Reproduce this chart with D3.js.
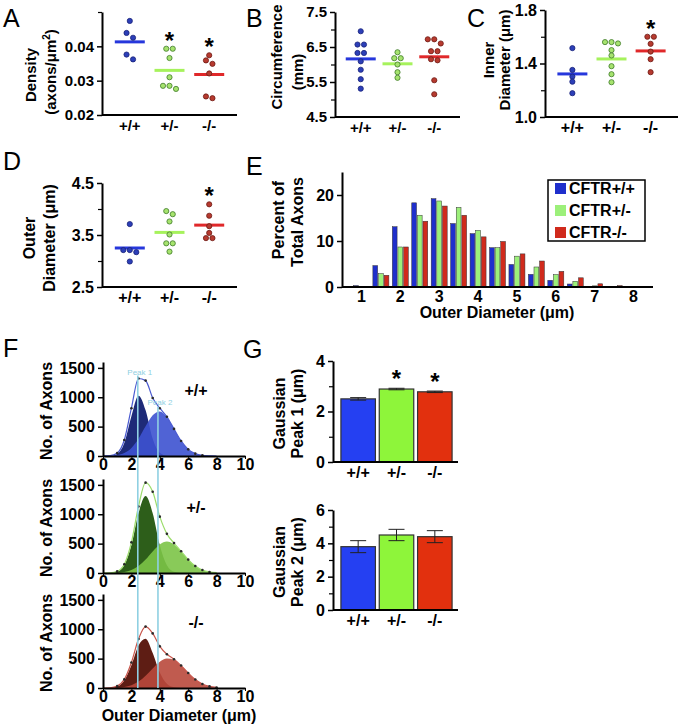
<!DOCTYPE html>
<html><head><meta charset="utf-8">
<script src="https://cdn.jsdelivr.net/npm/d3@7"></script>
<style>body{margin:0;background:#fff}svg{display:block}text{font-family:"Liberation Sans",Arial,Helvetica,sans-serif}</style>
</head><body><svg id="c" width="680" height="725"></svg>
<script>
// ---------------- DATA ----------------
const genotypes = ["+/+", "+/-", "-/-"];
// A: axon density (axons/um^2)
const densityWT  = [0.0474, 0.0439, 0.0425, 0.0376, 0.0362];
const densityHet = [0.0393, 0.0393, 0.0366, 0.0310, 0.0285, 0.0276, 0.0285];
const densityKO  = [0.0374, 0.0359, 0.0349, 0.0321, 0.0249, 0.0254];
const densityMean = [0.0413, 0.0330, 0.0318];
// B: circumference (mm)
const circWT  = [6.95, 6.57, 6.57, 6.33, 6.33, 6.09, 5.85, 5.58, 5.31];
const circHet = [6.35, 6.18, 6.18, 6.00, 5.78, 5.62];
const circKO  = [6.72, 6.72, 6.60, 6.38, 6.38, 6.12, 6.15, 5.55, 5.15];
const circMean = [6.16, 6.02, 6.22];
// C: inner diameter (um)
const innerWT  = [1.515, 1.352, 1.302, 1.264, 1.178];
const innerHet = [1.56, 1.55, 1.56, 1.50, 1.46, 1.38, 1.32, 1.26];
const innerKO  = [1.60, 1.60, 1.547, 1.489, 1.432, 1.335];
const innerMean = [1.322, 1.434, 1.494];
// D: outer diameter (um)
const outerWT  = [3.71, 3.21, 3.17, 3.21, 2.99];
const outerHet = [3.90, 3.96, 3.76, 3.51, 3.34, 3.34, 3.18];
const outerKO  = [4.09, 3.87, 3.67, 3.54, 3.44, 3.44];
const outerMean = [3.25, 3.55, 3.69];
// E: histogram of outer diameter (% of total axons)
const binCenters = [1, 1.5, 2, 2.5, 3, 3.5, 4, 4.5, 5, 5.5, 6, 6.5, 7, 7.5];
const pctWT  = [0.3, 4.65, 13.1, 18.3, 19.2, 13.8, 11.6, 8.55, 4.9, 2.75, 1.45, 0.65, 0.1, 0];
const pctHet = [0, 2.9, 8.7, 15.6, 18.7, 17.3, 12.3, 8.55, 6.7, 4.35, 2.7, 1.25, 0.25, 0];
const pctKO  = [0, 2.55, 8.7, 14.3, 17.6, 15.6, 10.9, 9.9, 7.2, 5.65, 3.4, 2.0, 0.7, 0.3];
const legendLabels = ["CFTR+/+", "CFTR+/-", "CFTR-/-"];
// F: number of axons vs outer diameter, two gaussian components + total
const diamX = [0, 0.5, 1, 1.5, 2, 2.5, 3, 3.5, 4, 4.5, 5, 5.5, 6, 6.5, 7, 7.5, 8];
const peak1WT  = [0, 3, 36, 223, 677, 1026, 778, 295, 56, 5, 0, 0, 0, 0, 0, 0, 0];
const peak2WT  = [1, 3, 15, 50, 136, 293, 505, 693, 758, 663, 461, 256, 113, 40, 11, 3, 0];
const totalWT  = [1, 6, 51, 273, 813, 1319, 1283, 988, 814, 668, 461, 256, 113, 40, 11, 3, 0];
const peak1Het = [0, 2, 22, 131, 472, 1015, 1310, 1015, 472, 131, 22, 2, 0, 0, 0, 0, 0];
const peak2Het = [0, 1, 5, 18, 50, 118, 228, 367, 487, 535, 487, 367, 228, 118, 50, 18, 5];
const totalHet = [0, 3, 27, 149, 522, 1133, 1538, 1382, 959, 666, 509, 369, 228, 118, 50, 18, 5];
const peak1KO  = [0, 3, 26, 128, 387, 724, 837, 597, 263, 72, 12, 1, 0, 0, 0, 0, 0];
const peak2KO  = [0, 1, 6, 18, 48, 109, 208, 332, 446, 503, 478, 381, 256, 144, 68, 27, 9];
const totalKO  = [0, 4, 32, 146, 435, 833, 1045, 929, 709, 575, 490, 382, 256, 144, 68, 27, 9];
const peakRef = [2.45, 3.87];
const peakLabels = ["Peak 1", "Peak 2"];
// G: gaussian peak positions (um), mean and error
const gPeak1 = [2.50, 2.89, 2.78];
const gPeak1Err = [0.05, 0.03, 0.03];
const gPeak2 = [3.80, 4.50, 4.40];
const gPeak2Err = [0.36, 0.34, 0.36];

// ---------------- STYLE ----------------
const dotFill = ["#2c3fb8", "#a6e36e", "#b63a2f"];
const dotStroke = ["#1a2378", "#3f7a2a", "#6e1a14"];
const meanCol = ["#2637dc", "#a6f25c", "#e0282a"];
const histCol = ["#1f2fcc", "#9cf07a", "#d02a1c"];
const barCol = ["#2540f2", "#8ef53a", "#e2300e"];
const svg = d3.select("#c");

function txt(g, x, y, s, fs, opts = {}) {
  return g.append("text").attr("x", x).attr("y", y).attr("font-size", fs)
    .attr("font-weight", opts.weight || "bold").attr("text-anchor", opts.anchor || "middle")
    .attr("fill", opts.fill || "#000").text(s);
}
function vtext(g, cx, cy, s, fs) {
  return g.append("text").attr("transform", `translate(${cx + 0.3 * fs},${cy}) rotate(-90)`)
    .attr("font-size", fs).attr("font-weight", "bold").attr("text-anchor", "middle").attr("fill", "#000").text(s);
}
function yAxis(g, scale, major, minor, fmt, fs) {
  const a = g.append("g").call(d3.axisLeft(scale).tickValues(major).tickFormat(fmt).tickSize(5).tickSizeOuter(0));
  a.select(".domain").attr("stroke-width", 2);
  a.selectAll(".tick line").attr("stroke-width", 1.5);
  a.selectAll(".tick text").attr("font-size", fs).attr("font-weight", "bold")
    .attr("font-family", '"Liberation Sans", Arial, sans-serif').attr("fill", "#000");
  if (minor && minor.length) {
    const m = g.append("g").call(d3.axisLeft(scale).tickValues(minor).tickFormat("").tickSize(4).tickSizeOuter(0));
    m.select(".domain").remove();
    m.selectAll(".tick line").attr("stroke-width", 1.2);
  }
}
function swarm(ys, step) {
  const idx = ys.map((y, i) => i).sort((a, b) => ys[a] - ys[b]);
  const off = new Array(ys.length).fill(0);
  let cl = [idx[0]];
  const flush = () => { const n = cl.length; cl.forEach((k, j) => off[k] = (j - (n - 1) / 2) * step); };
  for (let i = 1; i < idx.length; i++) {
    if (ys[idx[i]] - ys[cl[cl.length - 1]] < 5) cl.push(idx[i]); else { flush(); cl = [idx[i]]; }
  }
  flush();
  return off;
}
function dotPlot(p) {
  const g = svg.append("g");
  const y = d3.scaleLinear().domain(p.domain).range([p.yBot, p.yTop]);
  const x = d3.scalePoint().domain(genotypes).range([p.x0, p.x1]).padding(0.7);
  yAxis(g.append("g").attr("transform", `translate(${p.x0},0)`), y, p.major, p.minor, d3.format(p.fmt), p.fs);
  g.append("line").attr("x1", p.x0).attr("x2", p.x1).attr("y1", p.yBot).attr("y2", p.yBot)
    .attr("stroke", "#000").attr("stroke-width", 2);
  genotypes.forEach(k => txt(g, x(k), p.yBot + 16, k, p.fs));
  p.means.forEach((m, i) => g.append("line").attr("x1", x(genotypes[i]) - 15).attr("x2", x(genotypes[i]) + 15)
    .attr("y1", y(m)).attr("y2", y(m)).attr("stroke", meanCol[i]).attr("stroke-width", 3));
  p.groups.forEach((vals, i) => {
    const ys = vals.map(y), off = swarm(ys, 6.5);
    g.selectAll(null).data(vals).join("circle")
      .attr("cx", (d, j) => x(genotypes[i]) + off[j]).attr("cy", (d, j) => ys[j]).attr("r", 2.6)
      .attr("fill", dotFill[i]).attr("stroke", dotStroke[i]).attr("stroke-width", 0.8);
  });
  p.stars.forEach(i => txt(g, x(genotypes[i]), y(d3.max(p.groups[i])), "*", 24));
  txt(g, p.letter[1], p.letter[2], p.letter[0], 25, { weight: "normal", anchor: "start" });
  return g;
}

// ---------------- PANEL A ----------------
const gA = dotPlot({ x0: 102, x1: 237, yTop: 12, yBot: 115, domain: [0.02, 0.05], major: [0.02, 0.03, 0.04], minor: [0.05],
  fmt: ".2f", fs: 15, groups: [densityWT, densityHet, densityKO], means: densityMean, stars: [1, 2], letter: ["A", 3, 27] });
vtext(gA, 31, 75, "Density", 15);
{
  const t = gA.append("text").attr("transform", `translate(${51 + 4.5},72) rotate(-90)`).attr("font-size", 15)
    .attr("font-weight", "bold").attr("text-anchor", "middle");
  t.append("tspan").text("(axons/μm");
  t.append("tspan").attr("font-size", 10).attr("dy", -6).text("2");
  t.append("tspan").attr("dy", 6).text(")");
}
// ---------------- PANEL B ----------------
const gB = dotPlot({ x0: 335, x1: 460, yTop: 12, yBot: 117, domain: [4.5, 7.5], major: [4.5, 5.5, 6.5, 7.5], minor: [5, 6, 7],
  fmt: ".1f", fs: 15, groups: [circWT, circHet, circKO], means: circMean, stars: [], letter: ["B", 246, 27] });
vtext(gB, 277, 57, "Circumference", 15);
vtext(gB, 298, 72, "(mm)", 15);
// ---------------- PANEL C ----------------
const gC = dotPlot({ x0: 545, x1: 678, yTop: 10, yBot: 117, domain: [1.0, 1.8], major: [1.0, 1.4, 1.8], minor: [1.2, 1.6],
  fmt: ".1f", fs: 16, groups: [innerWT, innerHet, innerKO], means: innerMean, stars: [2], letter: ["C", 467, 27] });
vtext(gC, 489, 60, "Inner", 15);
vtext(gC, 505, 60, "Diameter (μm)", 15);
// ---------------- PANEL D ----------------
const gD = dotPlot({ x0: 102, x1: 237, yTop: 183, yBot: 287, domain: [2.5, 4.5], major: [2.5, 3.5, 4.5], minor: [3.0, 4.0],
  fmt: ".1f", fs: 16, groups: [outerWT, outerHet, outerKO], means: outerMean, stars: [2], letter: ["D", 3, 170] });
vtext(gD, 30, 238, "Outer", 16);
vtext(gD, 50, 238, "Diameter (μm)", 16);

// ---------------- PANEL E ----------------
{
  const g = svg.append("g");
  const x = d3.scaleLinear().domain([0.5, 8.5]).range([342, 653]);
  const y = d3.scaleLinear().domain([0, 25]).range([287, 172]);
  const sub = d3.scaleBand().domain([0, 1, 2]).range([-8, 8]).paddingInner(0.15);
  const series = [pctWT, pctHet, pctKO];
  series.forEach((arr, s) => {
    g.selectAll(null).data(binCenters).join("rect")
      .attr("x", (d) => x(d) + sub(s)).attr("width", sub.bandwidth())
      .attr("y", (d, i) => y(arr[i])).attr("height", (d, i) => y(0) - y(arr[i]))
      .attr("fill", histCol[s]).attr("stroke", "#333").attr("stroke-width", 0.5);
  });
  yAxis(g.append("g").attr("transform", "translate(342,0)"), y, [0, 10, 20], [], d3.format("d"), 16);
  g.append("line").attr("x1", 342).attr("x2", 653).attr("y1", 287).attr("y2", 287).attr("stroke", "#000").attr("stroke-width", 2);
  [1, 2, 3, 4, 5, 6, 7, 8].forEach(v => txt(g, x(v), 302, String(v), 16));
  txt(g, 497, 318, "Outer Diameter (μm)", 16);
  vtext(g, 279, 220, "Percent of", 16);
  vtext(g, 298, 222, "Total Axons", 16);
  // legend
  g.append("rect").attr("x", 548).attr("y", 180).attr("width", 97).attr("height", 61)
    .attr("fill", "#fff").attr("stroke", "#000").attr("stroke-width", 1.5);
  legendLabels.forEach((l, i) => {
    g.append("rect").attr("x", 555).attr("y", 183 + i * 22).attr("width", 11).attr("height", 11).attr("fill", histCol[i]);
    txt(g, 569, 194 + i * 22, l, 16, { anchor: "start" });
  });
  txt(g, 246, 175, "E", 25, { weight: "normal", anchor: "start" });
}

// ---------------- PANEL F ----------------
{
  const g = svg.append("g");
  const x = d3.scaleLinear().domain([0, 10]).range([103, 245]);
  const subs = [
    { y0: 456, p1: peak1WT, p2: peak2WT, tot: totalWT, c1: "#1e2a78", c2: "#3d52d0", cl: "#4a5ad0", lab: "+/+" },
    { y0: 573, p1: peak1Het, p2: peak2Het, tot: totalHet, c1: "#2d5e1a", c2: "#7cc447", cl: "#9bdc6a", lab: "+/-" },
    { y0: 688, p1: peak1KO, p2: peak2KO, tot: totalKO, c1: "#5e1d14", c2: "#b9493c", cl: "#c8564c", lab: "-/-" }
  ];
  let topScale;
  subs.forEach((s, k) => {
    const y = d3.scaleLinear().domain([0, 1600]).range([s.y0, s.y0 - 94]);
    if (k === 0) topScale = y;
    const area = arr => d3.area().x((d, i) => x(diamX[i])).y0(s.y0).y1(d => y(d)).curve(d3.curveMonotoneX)(arr);
    const line = arr => d3.line().x((d, i) => x(diamX[i])).y(d => y(d)).curve(d3.curveMonotoneX)(arr);
    g.append("path").attr("d", area(s.p1)).attr("fill", s.c1);
    g.append("path").attr("d", area(s.p2)).attr("fill", s.c2).attr("fill-opacity", 0.9);
    g.append("path").attr("d", line(s.tot)).attr("fill", "none").attr("stroke", s.cl).attr("stroke-width", 1.2);
    g.selectAll(null).data(s.tot.filter(v => v > 8)).join("circle")
      .attr("cx", (d) => x(diamX[s.tot.indexOf(d)])).attr("cy", d => y(d)).attr("r", 1.3).attr("fill", "#2a2a2a");
    yAxis(g.append("g").attr("transform", "translate(103,0)"), y, [0, 500, 1000, 1500], [], d3.format("d"), 16);
    const xa = g.append("g").attr("transform", `translate(0,${s.y0})`)
      .call(d3.axisBottom(x).tickValues([0, 2, 4, 6, 8, 10]).tickSize(3).tickSizeOuter(0).tickPadding(0));
    xa.select(".domain").attr("stroke-width", 2);
    xa.selectAll(".tick text").attr("font-size", 16).attr("font-weight", "bold").attr("fill", "#000")
      .attr("font-family", '"Liberation Sans", Arial, sans-serif');
    txt(g, 196, s.y0 - 60, s.lab, 16);
    vtext(g, 47, s.y0 - 45, "No. of Axons", 16);
  });
  txt(g, 179, 721, "Outer Diameter (μm)", 16);
  // peak reference lines
  const labY = [topScale(d3.max(totalWT)) - 4, topScale(d3.max(peak2WT)) - 6];
  peakRef.forEach((p, i) => {
    g.append("line").attr("x1", x(p)).attr("x2", x(p)).attr("y1", labY[i] + 1).attr("y2", 688)
      .attr("stroke", "#8fd0e2").attr("stroke-width", 1.6);
    txt(g, x(p) + 2, labY[i], peakLabels[i], 8, { weight: "normal", fill: "#8fd0e2" });
  });
  txt(g, 3, 357, "F", 25, { weight: "normal", anchor: "start" });
}

// ---------------- PANEL G ----------------
{
  const g = svg.append("g");
  const x = d3.scaleBand().domain(genotypes).range([339, 454]).paddingInner(0.1).paddingOuter(0.05);
  const plots = [
    { vals: gPeak1, err: gPeak1Err, dom: [0, 4], range: [462, 361], major: [0, 2, 4], minor: [1, 3], title: "Peak 1 (μm)", stars: [1, 2] },
    { vals: gPeak2, err: gPeak2Err, dom: [0, 6], range: [610, 510], major: [0, 2, 4, 6], minor: [1, 3, 5], title: "Peak 2 (μm)", stars: [] }
  ];
  plots.forEach(p => {
    const y = d3.scaleLinear().domain(p.dom).range(p.range);
    const yb = p.range[0];
    g.selectAll(null).data(p.vals).join("rect")
      .attr("x", (d, i) => x(genotypes[i])).attr("width", x.bandwidth())
      .attr("y", d => y(d)).attr("height", d => yb - y(d))
      .attr("fill", (d, i) => barCol[i]).attr("stroke", "#333").attr("stroke-width", 1.2);
    p.vals.forEach((v, i) => {
      const cx = x(genotypes[i]) + x.bandwidth() / 2;
      const lo = y(v - p.err[i]), hi = y(v + p.err[i]);
      g.append("line").attr("x1", cx).attr("x2", cx).attr("y1", lo).attr("y2", hi).attr("stroke", "#222").attr("stroke-width", 1);
      [lo, hi].forEach(yy => g.append("line").attr("x1", cx - 8).attr("x2", cx + 8).attr("y1", yy).attr("y2", yy)
        .attr("stroke", "#222").attr("stroke-width", 1));
    });
    p.stars.forEach(i => txt(g, x(genotypes[i]) + x.bandwidth() / 2, y(p.vals[i] + p.err[i]) - 1, "*", 24));
    yAxis(g.append("g").attr("transform", "translate(333,0)"), y, p.major, p.minor, d3.format("d"), 16);
    g.append("line").attr("x1", 333).attr("x2", 458).attr("y1", yb).attr("y2", yb).attr("stroke", "#000").attr("stroke-width", 2);
    genotypes.forEach(k => txt(g, x(k) + x.bandwidth() / 2, yb + 16, k, 16));
    const cy = (p.range[0] + p.range[1]) / 2 + 2;
    vtext(g, 280, cy, "Gaussian", 16);
    vtext(g, 298, cy, p.title, 16);
  });
  txt(g, 243, 358, "G", 25, { weight: "normal", anchor: "start" });
}
</script></body></html>
